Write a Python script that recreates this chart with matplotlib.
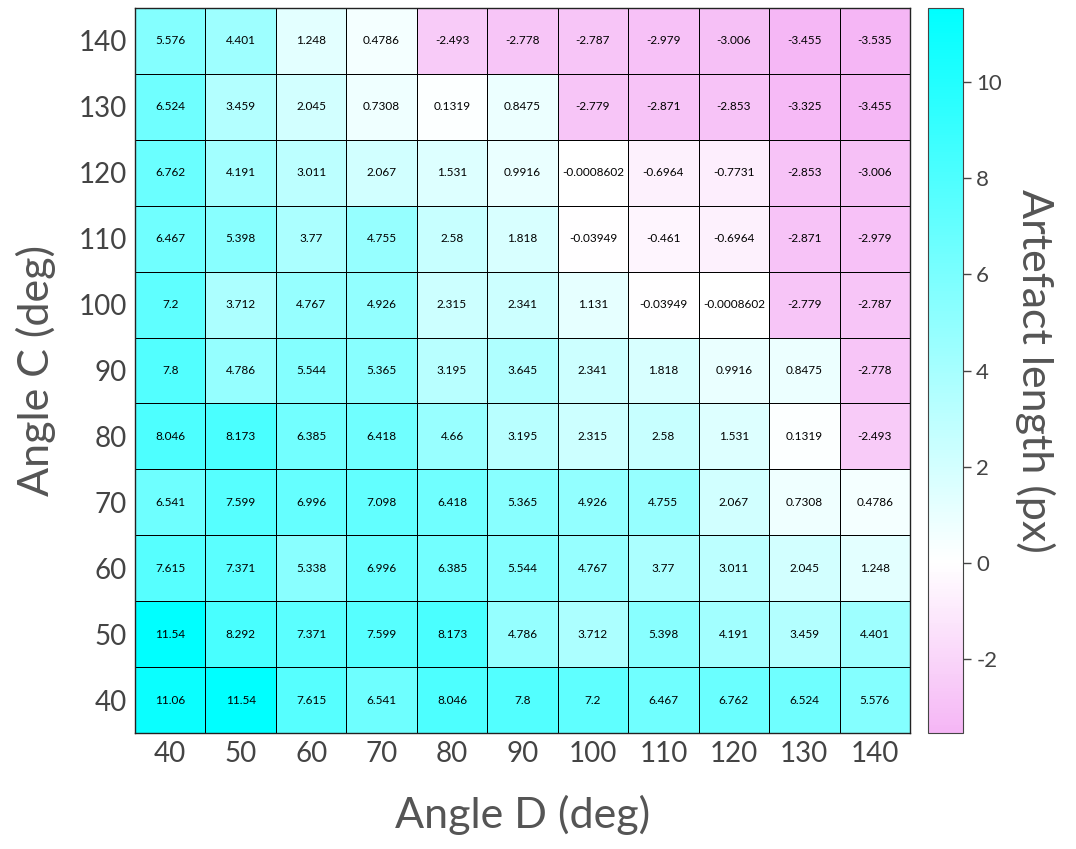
import numpy as np
import matplotlib
matplotlib.use('Agg')
import matplotlib.pyplot as plt
from matplotlib.colors import LinearSegmentedColormap, Normalize

plt.rcParams['font.family'] = ['Lato', 'DejaVu Sans']
plt.rcParams['axes.unicode_minus'] = False

angle_d = [40, 50, 60, 70, 80, 90, 100, 110, 120, 130, 140]
angle_c = [40, 50, 60, 70, 80, 90, 100, 110, 120, 130, 140]

# rows: angle C from 40 (bottom) to 140 (top); columns: angle D 40..140
artefact = np.array([
    [11.06, 11.54, 7.615, 6.541, 8.046, 7.8, 7.2, 6.467, 6.762, 6.524, 5.576],
    [11.54, 8.292, 7.371, 7.599, 8.173, 4.786, 3.712, 5.398, 4.191, 3.459, 4.401],
    [7.615, 7.371, 5.338, 6.996, 6.385, 5.544, 4.767, 3.77, 3.011, 2.045, 1.248],
    [6.541, 7.599, 6.996, 7.098, 6.418, 5.365, 4.926, 4.755, 2.067, 0.7308, 0.4786],
    [8.046, 8.173, 6.385, 6.418, 4.66, 3.195, 2.315, 2.58, 1.531, 0.1319, -2.493],
    [7.8, 4.786, 5.544, 5.365, 3.195, 3.645, 2.341, 1.818, 0.9916, 0.8475, -2.778],
    [7.2, 3.712, 4.767, 4.926, 2.315, 2.341, 1.131, -0.03949, -0.0008602, -2.779, -2.787],
    [6.467, 5.398, 3.77, 4.755, 2.58, 1.818, -0.03949, -0.461, -0.6964, -2.871, -2.979],
    [6.762, 4.191, 3.011, 2.067, 1.531, 0.9916, -0.0008602, -0.6964, -0.7731, -2.853, -3.006],
    [6.524, 3.459, 2.045, 0.7308, 0.1319, 0.8475, -2.779, -2.871, -2.853, -3.325, -3.455],
    [5.576, 4.401, 1.248, 0.4786, -2.493, -2.778, -2.787, -2.979, -3.006, -3.455, -3.535],
])

vmin, vmax = artefact.min(), artefact.max()
white_pos = (0.0 - vmin) / (vmax - vmin)
cmap = LinearSegmentedColormap.from_list(
    'pinkcyan', [(0.0, '#f5b6f5'), (white_pos, '#ffffff'), (1.0, '#00ffff')])
norm = Normalize(vmin=vmin, vmax=vmax)

fig = plt.figure(figsize=(10.76, 8.49), dpi=100)
ax = fig.add_axes([0.1255, 0.1366, 0.7202, 0.854])
cax = fig.add_axes([0.8625, 0.1366, 0.0325, 0.854])

mesh = ax.pcolormesh(np.arange(len(angle_d) + 1), np.arange(len(angle_c) + 1),
                     artefact, cmap=cmap, norm=norm,
                     edgecolors='black', linewidth=0.7)

for i in range(len(angle_c)):
    for j in range(len(angle_d)):
        ax.text(j + 0.5, i + 0.5, '%.4g' % artefact[i, j],
                ha='center', va='center', fontsize=8.5, color='black')

ax.set_xticks(np.arange(len(angle_d)) + 0.5)
ax.set_xticklabels([str(a) for a in angle_d])
ax.set_yticks(np.arange(len(angle_c)) + 0.5)
ax.set_yticklabels([str(a) for a in angle_c])
ax.tick_params(length=0, labelsize=20, labelcolor='#444444', pad=6)
for s in ax.spines.values():
    s.set_color('#222222')
    s.set_linewidth(1.0)

ax.set_xlabel('Angle D (deg)', fontsize=31, color='#555555', labelpad=20)
ax.set_ylabel('Angle C (deg)', fontsize=31, color='#555555', labelpad=16)

cb = fig.colorbar(mesh, cax=cax)
cb.set_ticks([-2, 0, 2, 4, 6, 8, 10])
cb.ax.tick_params(labelsize=16, labelcolor='#444444', color='#444444',
                  length=6, width=1)
cb.outline.set_edgecolor('#444444')
cb.set_label('Artefact length (px)', fontsize=31, color='#555555',
             rotation=270, labelpad=38)

fig.savefig('out.png', dpi=100)
